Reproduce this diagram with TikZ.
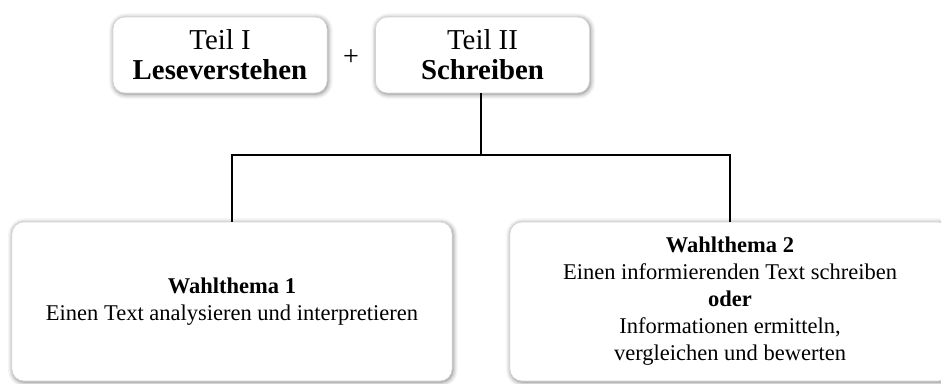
\documentclass[tikz,border=0pt]{standalone}
\usepackage{fontspec}
\setmainfont{Liberation Serif}
\usetikzlibrary{shadows.blur}

\tikzset{
  teilbox/.style={draw=gray!35, line width=0.4pt, fill=white, rounded corners=0.3cm,
    blur shadow={shadow xshift=0.6pt, shadow yshift=-0.8pt, shadow blur radius=3.5pt, shadow opacity=55},
    align=center, minimum width=5.35cm, minimum height=1.9cm, inner sep=0pt,
    font=\fontsize{20.5}{21.5}\selectfont},
  themabox/.style={teilbox, minimum width=11cm, minimum height=3.975cm,
    font=\fontsize{16}{19.2}\selectfont},
  linie/.style={line width=1.1pt}
}

\begin{document}
\begin{tikzpicture}[x=0.025cm, y=-0.025cm]
  \useasboundingbox (0, 0) rectangle (941, 383);
  % obere Reihe
  \node [teilbox] (teil1) at (220, 55) {Teil I\\\textbf{Leseverstehen}};
  \node [teilbox] (teil2) at (482.5, 55) {Teil II\\\textbf{Schreiben}};
  \node [font=\fontsize{20}{20}\selectfont] (plus) at (351, 58) {+};
  % Wahlthemen
  \node [themabox] (wahl1) at (232, 301.5) {\textbf{Wahlthema 1}\\Einen Text analysieren und interpretieren};
  \node [themabox] (wahl2) at (730, 301.5) {\textbf{Wahlthema 2}\\Einen informierenden Text schreiben\\\textbf{oder}\\Informationen ermitteln,\\vergleichen und bewerten};
  % Verbindungen
  \coordinate (split) at (481, 155);
  \draw [linie] (teil2.south -| split) -- (split);
  \draw [linie] (wahl1.north) |- (split) -| (wahl2.north);
\end{tikzpicture}
\end{document}
